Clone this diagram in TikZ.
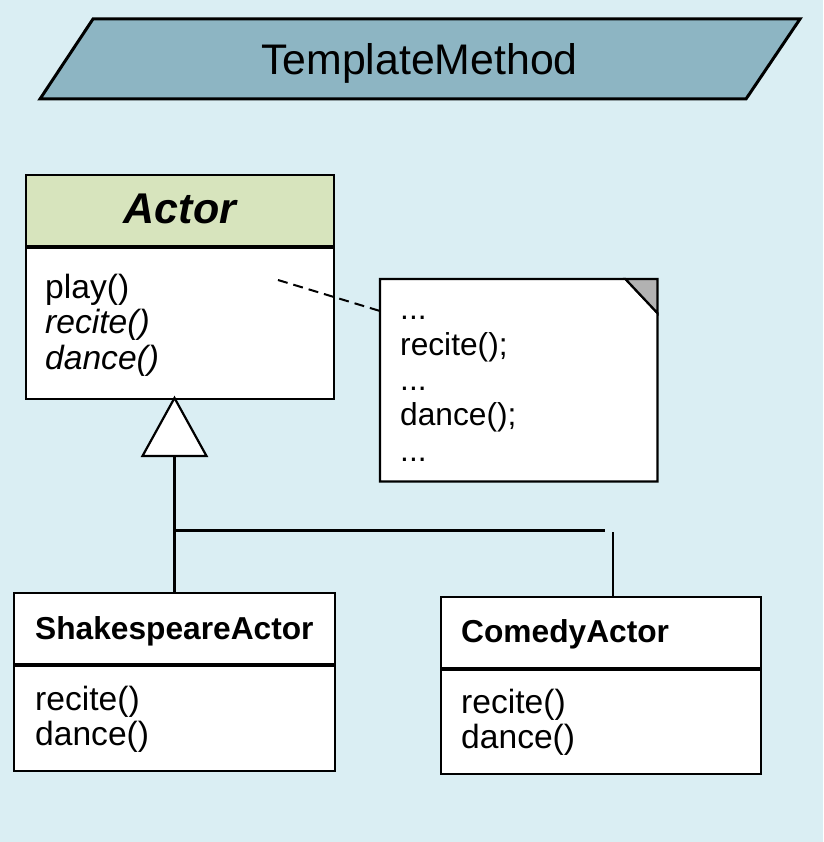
\documentclass[tikz,border=0pt]{standalone}
\usepackage{fontspec}
\setmainfont{Liberation Sans}
\usetikzlibrary{calc}
\definecolor{bgc}{HTML}{DAEEF3}
\definecolor{titlec}{HTML}{8DB5C3}
\definecolor{hdrc}{HTML}{D7E4BD}
\definecolor{foldc}{HTML}{B2B2B2}
\begin{document}
\begin{tikzpicture}[x=1pt,y=-1pt,line join=miter,
  cls/.style={draw=black, line width=2.2pt, fill=white, inner sep=0pt, anchor=north west},
  sepline/.style={line width=4pt},
  mtxt/.style={font=\fontsize{33.6}{37}\selectfont, anchor=base west, inner sep=0pt},
  ntxt/.style={font=\fontsize{31.7}{36}\selectfont, anchor=base west, inner sep=0pt},
  htxt/.style={font=\fontsize{31.7}{36}\selectfont\bfseries, anchor=base west, inner sep=0pt},
  conn/.style={line width=2.2pt}]
\fill[bgc] (0,0) rectangle (823,842);
\useasboundingbox (0,0) rectangle (823,842);
% title
\draw[fill=titlec, line width=3pt] (93,19) -- (800,19) -- (746,99) -- (40,99) -- cycle;
\node[font=\fontsize{42.8}{48}\selectfont, anchor=base, inner sep=0pt] (title) at (419.5,75) {TemplateMethod};
% Actor
\node[cls, fill=hdrc, minimum width=308pt, minimum height=71pt] (actorhead) at (25,174) {};
\node[cls, minimum width=308pt, minimum height=153pt] (actorbody) at (25,245) {};
\draw[sepline] (actorhead.south west) -- (actorhead.south east);
\node[font=\fontsize{43}{48}\selectfont\bfseries\itshape, anchor=base, inner sep=0pt] (actorname) at (180,223) {Actor};
\node[mtxt] (aplay) at (45,298) {play()};
\node[mtxt] (arecite) at (45,333) {\itshape recite()};
\node[mtxt] (adance) at (45,369) {\itshape dance()};
% note
\node[anchor=north west, inner sep=0pt, minimum width=277pt, minimum height=202pt] (note) at (380,279) {};
\draw[line width=2.2pt, fill=white] (note.north west) -- ($(note.north east)+(-32,0)$) -- ($(note.north east)+(0,34)$) -- (note.south east) -- (note.south west) -- cycle;
\draw[line width=2.2pt, fill=foldc] ($(note.north east)+(-32,0)$) -- (note.north east) -- ($(note.north east)+(0,34)$) -- cycle;
\node[ntxt] (n1) at (400,319) {...};
\node[ntxt] (n2) at (400,355) {recite();};
\node[ntxt] (n3) at (400,390) {...};
\node[ntxt] (n4) at (400,425) {dance();};
\node[ntxt] (n5) at (400,461) {...};
\coordinate (dashstart) at (278,280);
\coordinate (dashend) at ($(note.north west)+(0,32)$);
\draw[line width=2pt, dash pattern=on 10pt off 6pt] (dashstart) -- (dashend);
% Shakespeare
\node[cls, minimum width=321pt, minimum height=71pt] (shead) at (13,592) {};
\node[cls, minimum width=321pt, minimum height=107pt] (sbody) at (13,663) {};
\draw[sepline] (shead.south west) -- (shead.south east);
\node[htxt] (sname) at (35,639) {ShakespeareActor};
\node[mtxt] (srecite) at (35,710) {recite()};
\node[mtxt] (sdance) at (35,745) {dance()};
% Comedy
\node[cls, minimum width=320pt, minimum height=71pt] (chead) at (440,596) {};
\node[cls, minimum width=320pt, minimum height=106pt] (cbody) at (440,667) {};
\draw[sepline] (chead.south west) -- (chead.south east);
\node[htxt] (cname) at (461,642) {ComedyActor};
\node[mtxt] (crecite) at (461,713) {recite()};
\node[mtxt] (cdance) at (461,748) {dance()};
% generalization
\coordinate (apex) at (174.5,398);
\coordinate (tbase) at (174.5,456);
\coordinate (junc) at (174.5,530.5);
\coordinate (hend) at (605,530.5);
\coordinate (vtop) at (613,532);
\draw[conn] (shead.north -| tbase) -- (tbase);
\draw[conn] (junc) -- (hend);
\draw[conn] (vtop) -- (vtop |- chead.north);
\draw[conn, fill=white] (apex) -- (142.5,456) -- (206.5,456) -- cycle;
\end{tikzpicture}
\end{document}
